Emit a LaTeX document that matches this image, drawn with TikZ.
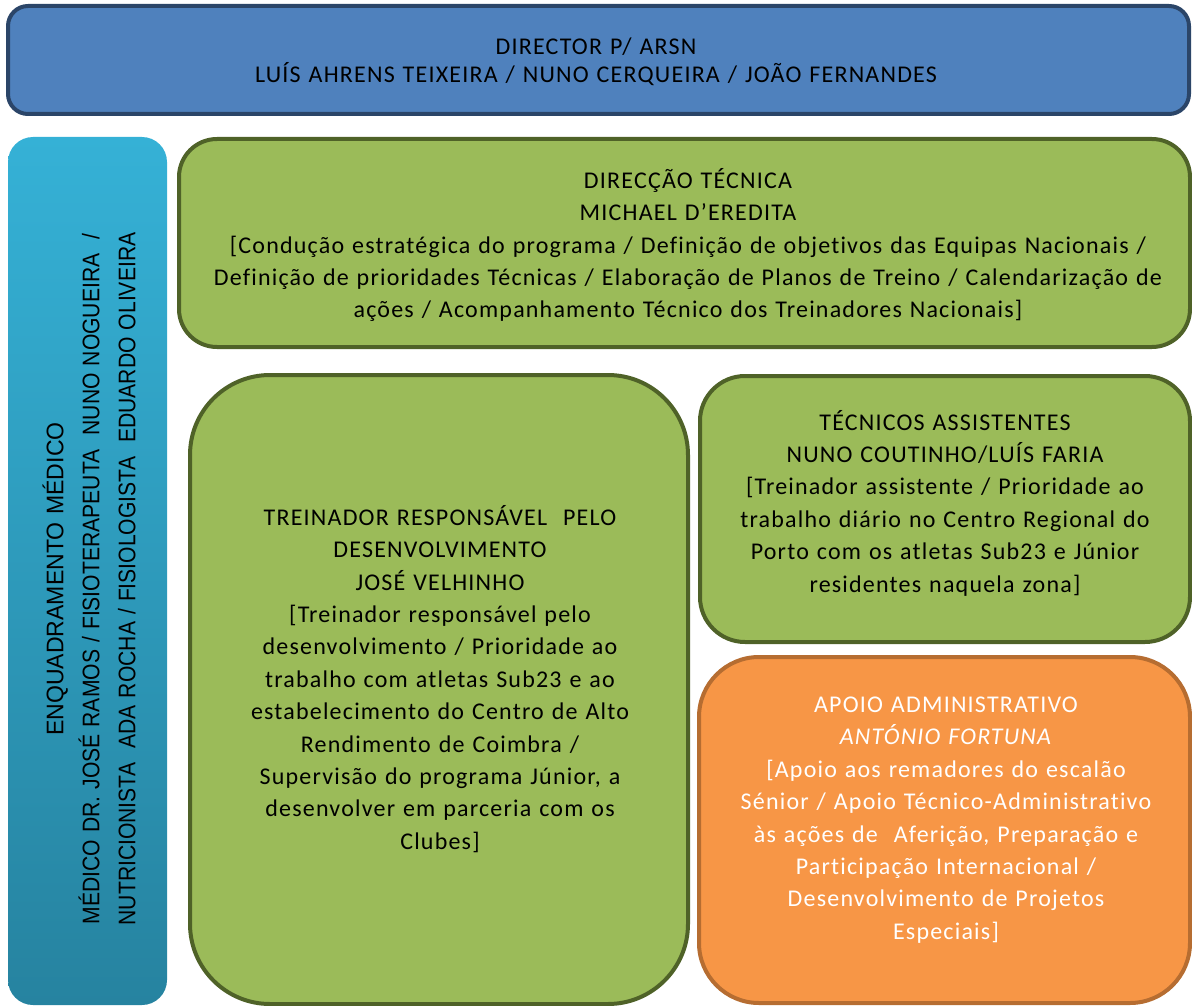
\documentclass[tikz,border=0pt]{standalone}
\usepackage{fontspec}
\setmainfont[LetterSpace=5,WordSpace=1.2,Ligatures={NoCommon}]{Carlito}
\newfontfamily\arialfont[FakeStretch=0.88,WordSpace=1.2]{Liberation Sans}
\newfontfamily\arialwide[FakeStretch=0.96,WordSpace=1.2]{Liberation Sans}
\definecolor{topfill}{HTML}{4F81BD}
\definecolor{topline}{HTML}{2B4568}
\definecolor{greenfill}{HTML}{9BBB59}
\definecolor{greenline}{HTML}{4F6228}
\definecolor{orangefill}{HTML}{F79646}
\definecolor{orangeline}{HTML}{B66D31}
\definecolor{cyantop}{HTML}{35B1D6}
\definecolor{cyanbot}{HTML}{2683A0}
\begin{document}
\begin{tikzpicture}[x=1pt,y=-1pt,
  box/.style={draw, line width=4pt, inner sep=0pt, outer sep=0pt},
  bluebox/.style={box, draw=topline, fill=topfill},
  greenbox/.style={box, draw=greenline, fill=greenfill},
  orangebox/.style={box, draw=orangeline, fill=orangefill},
  sidebox/.style={inner sep=0pt, outer sep=0pt, top color=cyantop, bottom color=cyanbot, rounded corners=25pt},
  txt/.style={align=center, inner sep=0pt, font=\fontsize{24}{32.4}\selectfont},
  toptxt/.style={align=center, inner sep=0pt, font=\fontsize{24}{28}\selectfont},
  sidetxt/.style={align=center, inner sep=0pt, rotate=90, font=\arialfont\fontsize{24}{36}\selectfont}]
\useasboundingbox (0,0) rectangle (1192,1006);
\begin{scope}
\clip (0,0) rectangle (1192,1006);
% top box
\node[bluebox, rounded corners=20pt, minimum width=1181pt, minimum height=108pt] (top) at (598.5,60) {};
\node[toptxt] (toptext) at (596,62) {DIRECTOR P/ ARSN\\LUÍS AHRENS TEIXEIRA / NUNO CERQUEIRA / JOÃO FERNANDES};
% side box
\node[sidebox, minimum width=159pt, minimum height=868pt] (side) at (87.5,571) {};
\node[sidetxt] (sidetext) at (89,579) {{\arialwide ENQUADRAMENTO MÉDICO}\\MÉDICO DR. JOSÉ RAMOS / FISIOTERAPEUTA\ \ NUNO NOGUEIRA\ \ /\\NUTRICIONISTA\ \ ADA ROCHA / FISIOLOGISTA\ \ EDUARDO OLIVEIRA};
% direccao
\node[greenbox, rounded corners=38pt, minimum width=1011pt, minimum height=208pt] (dir) at (684.5,243) {};
\node[txt] (dirtext) at (688,245) {DIRECÇÃO TÉCNICA\\MICHAEL D’EREDITA\\{[}Condução estratégica do programa / Definição de objetivos das Equipas Nacionais /\\Definição de prioridades Técnicas / Elaboração de Planos de Treino / Calendarização de\\ações / Acompanhamento Técnico dos Treinadores Nacionais{]}};
% treinador
\node[greenbox, rounded corners=80pt, minimum width=498pt, minimum height=629pt] (trein) at (439,689.5) {};
\node[txt] (treintext) at (440,679) {TREINADOR RESPONSÁVEL\ \ PELO\\DESENVOLVIMENTO\\JOSÉ VELHINHO\\{[}Treinador responsável pelo\\desenvolvimento / Prioridade ao\\trabalho com atletas Sub23 e ao\\estabelecimento do Centro de Alto\\Rendimento de Coimbra /\\Supervisão do programa Júnior, a\\desenvolver em parceria com os\\Clubes{]}};
% tecnicos
\node[greenbox, rounded corners=45pt, minimum width=490pt, minimum height=266pt] (tec) at (945,509) {};
\node[txt] (tectext) at (945,503) {TÉCNICOS ASSISTENTES\\NUNO COUTINHO/LUÍS FARIA\\{[}Treinador assistente / Prioridade ao\\trabalho diário no Centro Regional do\\Porto com os atletas Sub23 e Júnior\\residentes naquela zona{]}};
% apoio
\node[orangebox, rounded corners=60pt, minimum width=491pt, minimum height=346pt] (apoio) at (944.5,830) {};
\node[txt, text=white] (apoiotext) at (946,820) {APOIO ADMINISTRATIVO\\\textit{ANTÓNIO FORTUNA}\\{[}Apoio aos remadores do escalão\\Sénior / Apoio Técnico-Administrativo\\às ações de\ \ Aferição, Preparação e\\Participação Internacional /\\Desenvolvimento de Projetos\\Especiais{]}};
\end{scope}
\end{tikzpicture}
\end{document}
